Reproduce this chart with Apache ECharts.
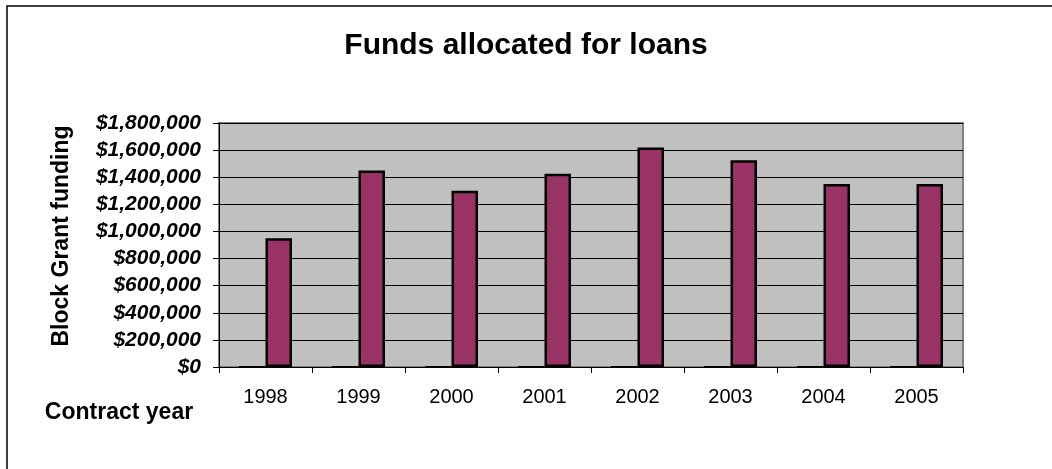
<!DOCTYPE html>
<html>
<head>
<meta charset="utf-8">
<title>Funds allocated for loans</title>
<script src="https://cdn.jsdelivr.net/npm/echarts@6/dist/echarts.min.js"></script>
<style>
  html, body { margin: 0; padding: 0; background: #fff; }
  #chart { width: 1052px; height: 469px; }
</style>
</head>
<body>
<div id="chart"></div>
<script>
// chart data
var years = ['1998', '1999', '2000', '2001', '2002', '2003', '2004', '2005']
var emptySeries = [0, 0, 0, 0, 0, 0, 0, 0]
var loanFunds = [950000, 1450000, 1300000, 1425000, 1620000, 1525000, 1350000, 1350000]
var yMin = 0
var yMax = 1800000
var yStep = 200000

var font = 'Liberation Sans, Arial, sans-serif'

function money(v) {
  return '$' + String(v).replace(/\B(?=(\d{3})+(?!\d))/g, ',')
}

var chart = echarts.init(document.getElementById('chart'))
chart.setOption({
  backgroundColor: '#fff',
  animation: false,
  title: {
    text: 'Funds allocated for loans',
    left: 'center',
    top: 26,
    textStyle: { fontFamily: font, fontSize: 30, fontWeight: 'bold', color: '#000' }
  },
  grid: {
    left: 219,
    right: 89,
    top: 123,
    bottom: 102,
    show: true,
    backgroundColor: '#c0c0c0',
    borderColor: '#808080',
    borderWidth: 2
  },
  xAxis: {
    type: 'category',
    data: years,
    axisLine: { lineStyle: { color: '#000', width: 1 } },
    axisTick: { show: true, length: 6, lineStyle: { color: '#000' } },
    axisLabel: { margin: 20, fontFamily: font, fontSize: 20, color: '#000' }
  },
  yAxis: {
    type: 'value',
    min: yMin,
    max: yMax,
    interval: yStep,
    axisLine: { show: true, lineStyle: { color: '#000', width: 1 } },
    axisTick: { show: true, length: 6, lineStyle: { color: '#000' } },
    axisLabel: {
      margin: 18,
      fontFamily: font,
      fontSize: 21,
      fontWeight: 'bold',
      fontStyle: 'italic',
      color: '#000',
      formatter: money
    },
    splitLine: { lineStyle: { color: '#000', width: 1 } }
  },
  series: [
    {
      name: 'none',
      type: 'bar',
      data: emptySeries,
      barGap: '0%',
      barCategoryGap: '43%',
      itemStyle: { color: '#000080', borderColor: '#000', borderWidth: 2 }
    },
    {
      name: 'Funds',
      type: 'bar',
      data: loanFunds,
      barGap: '0%',
      barCategoryGap: '43%',
      itemStyle: { color: '#993366', borderColor: '#000', borderWidth: 2.5 }
    }
  ],
  graphic: [
    {
      type: 'rect',
      shape: { x: 7, y: 6, width: 1100, height: 500 },
      style: { fill: null, stroke: '#000', lineWidth: 1.5 },
      silent: true
    },
    {
      type: 'text',
      x: 62,
      y: 236,
      rotation: Math.PI / 2,
      style: {
        text: 'Block Grant funding',
        font: 'bold 23px ' + font,
        fill: '#000',
        align: 'center',
        verticalAlign: 'middle'
      }
    },
    {
      type: 'text',
      x: 119,
      y: 413,
      style: {
        text: 'Contract year',
        font: 'bold 23px ' + font,
        fill: '#000',
        align: 'center',
        verticalAlign: 'middle'
      }
    }
  ]
})
</script>
</body>
</html>
